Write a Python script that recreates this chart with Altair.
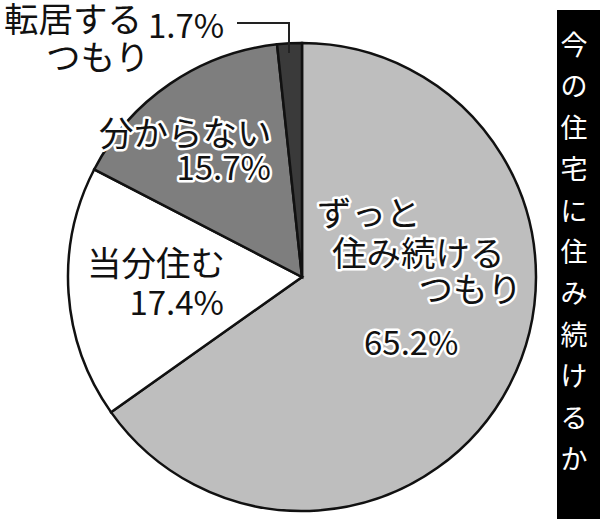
import altair as alt
import pandas as pd

# Survey answers, clockwise from 12 o'clock
categories = ["ずっと住み続けるつもり", "当分住む", "分からない", "転居するつもり"]
values = [65.2, 17.4, 15.7, 1.7]
slice_colors = ["#bebebe", "#ffffff", "#7e7e7e", "#3a3a3a"]
title_text = "今の住宅に住み続けるか"

df = pd.DataFrame({"category": categories, "value": values, "order": list(range(len(values)))})
df["pct"] = df["value"].map(lambda v: f"{v:.1f}%")

CX, CY, R = 302, 277, 234
FONT = "Noto Sans CJK JP"
FS_NAME = 34.5
FS_PCT = 33

base = alt.Chart(df)

pie = base.mark_arc(outerRadius=R, stroke="#111", strokeWidth=2.5).encode(
    theta=alt.Theta("value:Q", stack=True),
    order=alt.Order("order:Q"),
    color=alt.Color("category:N", scale=alt.Scale(domain=categories, range=slice_colors), legend=None),
    x=alt.value(CX),
    y=alt.value(CY),
)


def text_layer(cat, x, y, align, text=None, field=None):
    """Black label with a white halo, tied to one category row."""
    src = base.transform_filter(alt.datum.category == cat)
    t = alt.Text(f"{field}:N") if field else alt.value(text)
    common = dict(font=FONT, fontSize=FS_PCT if field else FS_NAME, align=align, baseline="middle")
    halo = src.mark_text(stroke="white", strokeWidth=5, strokeJoin="round", fill="white", **common).encode(
        x=alt.value(x), y=alt.value(y), text=t)
    ink = src.mark_text(fill="#111", **common).encode(x=alt.value(x), y=alt.value(y), text=t)
    return [halo, ink]


labels = []
labels += text_layer(categories[0], 317, 216, "left", text="ずっと")
labels += text_layer(categories[0], 332, 256, "left", text="住み続ける")
labels += text_layer(categories[0], 522, 292, "right", text="つもり")
labels += text_layer(categories[0], 364, 345, "left", field="pct")
labels += text_layer(categories[1], 225, 266, "right", text="当分住む")
labels += text_layer(categories[1], 224, 305, "right", field="pct")
labels += text_layer(categories[2], 99, 136, "left", text="分からない")
labels += text_layer(categories[2], 271, 170, "right", field="pct")
labels += text_layer(categories[3], 4, 22, "left", text="転居する")
labels += text_layer(categories[3], 148, 28, "left", field="pct")
labels += text_layer(categories[3], 46, 60, "left", text="つもり")

# Leader line from the small slice out to its label
one = alt.Chart(pd.DataFrame({"k": [0]}))
leader_h = one.mark_rule(color="#222", strokeWidth=2).encode(
    x=alt.value(237), x2=alt.value(290), y=alt.value(23))
leader_v = one.mark_rule(color="#222", strokeWidth=2).encode(
    x=alt.value(289), y=alt.value(22), y2=alt.value(53))

# Vertical caption on a black band at the right edge
band = one.mark_rect(color="black").encode(
    x=alt.value(557), x2=alt.value(600), y=alt.value(10), y2=alt.value(519))
caption = one.mark_text(
    font=FONT, fontSize=27, fill="white", align="center", baseline="top",
    lineBreak="\n", lineHeight=41.4,
).encode(x=alt.value(574), y=alt.value(34), text=alt.value("\n".join(title_text)))

chart = alt.layer(pie, *labels, leader_h, leader_v, band, caption).properties(
    width=600, height=519, autosize="none", padding=0, background="white"
).configure_view(stroke=None)

chart.save("out.html", embed_options={"renderer": "svg", "actions": False})
